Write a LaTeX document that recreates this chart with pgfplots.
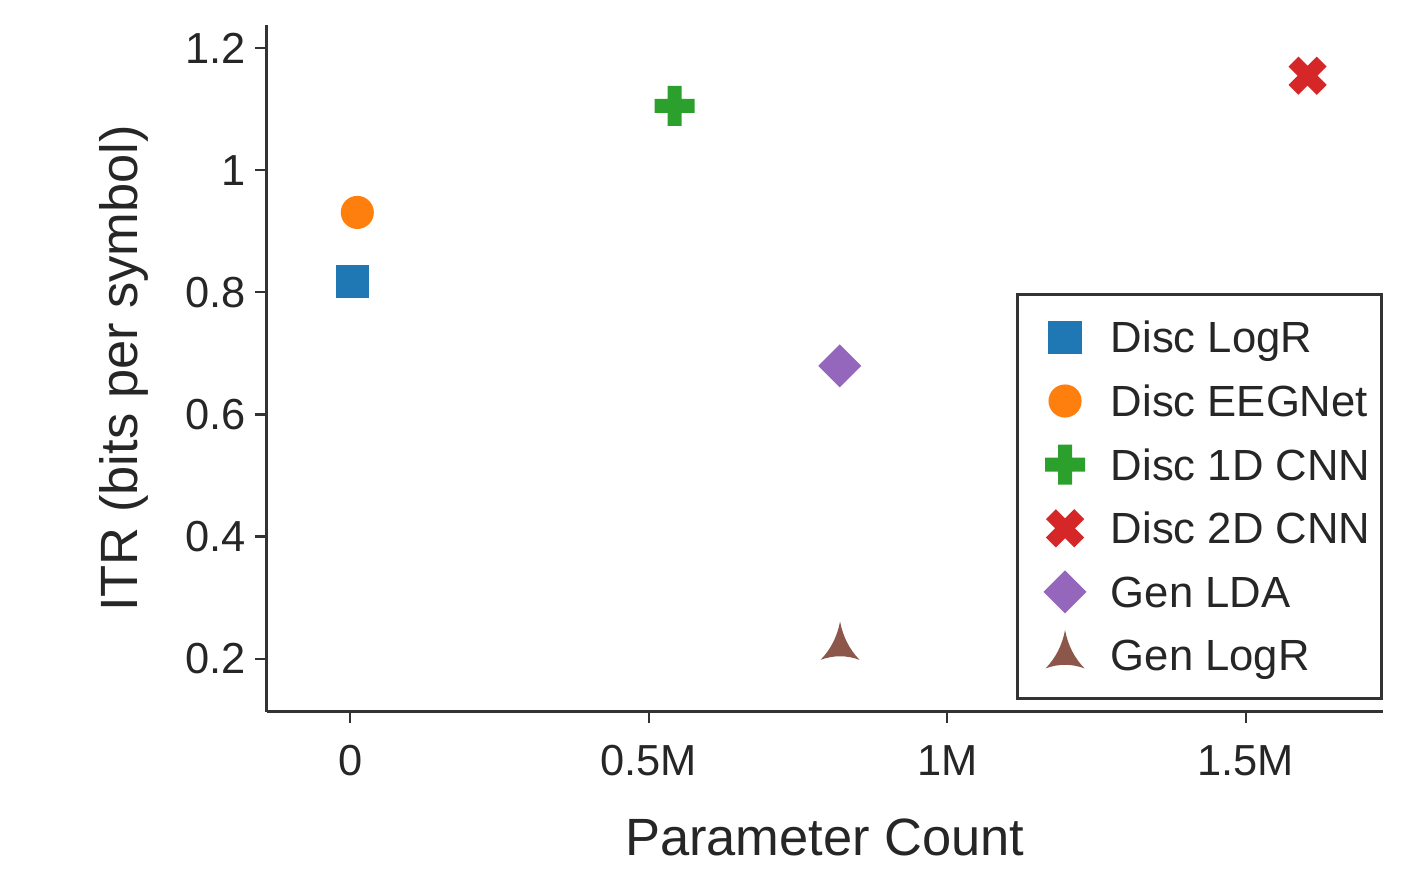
\documentclass[border=0pt]{standalone}
\usepackage{fontspec}
\setmainfont{Liberation Sans}
\usepackage{pgfplots}
\pgfplotsset{compat=1.18}
\definecolor{tblue}{HTML}{1F77B4}
\definecolor{torange}{HTML}{FF7F0E}
\definecolor{tgreen}{HTML}{2CA02C}
\definecolor{tred}{HTML}{D62728}
\definecolor{tpurple}{HTML}{9467BD}
\definecolor{tbrown}{HTML}{8C564B}
\definecolor{axgray}{HTML}{333333}
\definecolor{txtgray}{HTML}{262626}

\pgfdeclareplotmark{msq}{%
  \pgfpathrectangle{\pgfqpoint{-3.9pt}{-3.9pt}}{\pgfqpoint{7.8pt}{7.8pt}}%
  \pgfusepathqfill}
\pgfdeclareplotmark{mcirc}{%
  \pgfpathcircle{\pgfpointorigin}{3.85pt}%
  \pgfusepathqfill}
\pgfdeclareplotmark{mdiam}{%
  \pgfpathmoveto{\pgfqpoint{0pt}{5pt}}%
  \pgfpathlineto{\pgfqpoint{5pt}{0pt}}%
  \pgfpathlineto{\pgfqpoint{0pt}{-5pt}}%
  \pgfpathlineto{\pgfqpoint{-5pt}{0pt}}%
  \pgfpathclose\pgfusepathqfill}
\pgfdeclareplotmark{mplus}{%
  \pgfpathmoveto{\pgfqpoint{1.63pt}{4.65pt}}%
  \pgfpathlineto{\pgfqpoint{1.63pt}{1.63pt}}%
  \pgfpathlineto{\pgfqpoint{4.65pt}{1.63pt}}%
  \pgfpathlineto{\pgfqpoint{4.65pt}{-1.63pt}}%
  \pgfpathlineto{\pgfqpoint{1.63pt}{-1.63pt}}%
  \pgfpathlineto{\pgfqpoint{1.63pt}{-4.65pt}}%
  \pgfpathlineto{\pgfqpoint{-1.63pt}{-4.65pt}}%
  \pgfpathlineto{\pgfqpoint{-1.63pt}{-1.63pt}}%
  \pgfpathlineto{\pgfqpoint{-4.65pt}{-1.63pt}}%
  \pgfpathlineto{\pgfqpoint{-4.65pt}{1.63pt}}%
  \pgfpathlineto{\pgfqpoint{-1.63pt}{1.63pt}}%
  \pgfpathlineto{\pgfqpoint{-1.63pt}{4.65pt}}%
  \pgfpathclose\pgfusepathqfill}
\pgfdeclareplotmark{mctri}{%
  \pgfpathmoveto{\pgfqpoint{0pt}{5.93pt}}%
  \pgfpathquadraticcurveto{\pgfqpoint{1.0pt}{0.65pt}}{\pgfqpoint{4.53pt}{-2.98pt}}%
  \pgfpathquadraticcurveto{\pgfqpoint{0pt}{-1.31pt}}{\pgfqpoint{-4.53pt}{-2.98pt}}%
  \pgfpathquadraticcurveto{\pgfqpoint{-1.0pt}{0.65pt}}{\pgfqpoint{0pt}{5.93pt}}%
  \pgfpathclose\pgfusepathqfill}

\begin{document}
\begin{tikzpicture}
\begin{axis}[
  at={(0,0)}, anchor=south west,
  scale only axis, width=259.6pt, height=159.7pt,
  xmin=-140200, xmax=1730000, ymin=0.1131, ymax=1.2382,
  axis x line*=bottom, axis y line*=left,
  axis line style={draw=axgray, line width=0.6pt, -},
  tick align=outside, major tick length=2.7pt,
  every tick/.style={draw=axgray, line width=0.5pt},
  xtick={0,500000,1000000,1500000}, xticklabels={0,0.5M,1M,1.5M},
  ytick={0.2,0.4,0.6,0.8,1,1.2}, yticklabels={0.2,0.4,0.6,0.8,1,1.2},
  scaled x ticks=false,
  xticklabel shift=1.6pt, yticklabel shift=-1.4pt,
  tick label style={font=\fontsize{10.1}{12}\selectfont, text=txtgray},
  xlabel={Parameter Count}, ylabel={ITR (bits per symbol)},
  label style={font=\fontsize{12.2}{14.6}\selectfont, text=txtgray},
  xlabel style={at={(axis description cs:0.5,-0.1830)}, anchor=center},
  ylabel style={at={(axis description cs:-0.128,0.5)}, anchor=center},
  legend cell align=left,
  legend style={
    at={(axis description cs:1,0.017)}, anchor=south east,
    draw=axgray, line width=0.7pt, fill=white,
    inner xsep=1.5pt, inner ysep=3.9pt,
    row sep=2.64pt,
    font=\fontsize{10.15}{12}\selectfont, text=txtgray,
    nodes={inner xsep=1.1pt, inner ysep=0pt, text height=9.66pt, text depth=2.5pt},
  },
  every axis plot post/.append style={
    legend image code/.code={%
      \path (0pt,0pt) (18.4pt,0pt);
      \draw[mark repeat=2,mark phase=2,##1] plot coordinates {(0pt,0pt)(9.2pt,0pt)(18.4pt,0pt)};
    }
  },
]
\addplot[only marks, mark=msq, color=tblue] coordinates {(3850,0.8175)};
\addlegendentry{Disc LogR}
\addplot[only marks, mark=mcirc, color=torange] coordinates {(11600,0.931)};
\addlegendentry{Disc EEGNet}
\addplot[only marks, mark=mplus, color=tgreen] coordinates {(543100,1.1057)};
\addlegendentry{Disc 1D CNN}
\addplot[only marks, mark=mplus, mark options={rotate=45}, color=tred] coordinates {(1603700,1.155)};
\addlegendentry{Disc 2D CNN}
\addplot[only marks, mark=mdiam, color=tpurple] coordinates {(819900,0.6795)};
\addlegendentry{Gen LDA}
\addplot[only marks, mark=mctri, color=tbrown] coordinates {(820400,0.219)};
\addlegendentry{Gen LogR}
\end{axis}
\path (-62.02pt,-34.72pt) rectangle (268.2pt,165.5pt);
\end{tikzpicture}
\end{document}
